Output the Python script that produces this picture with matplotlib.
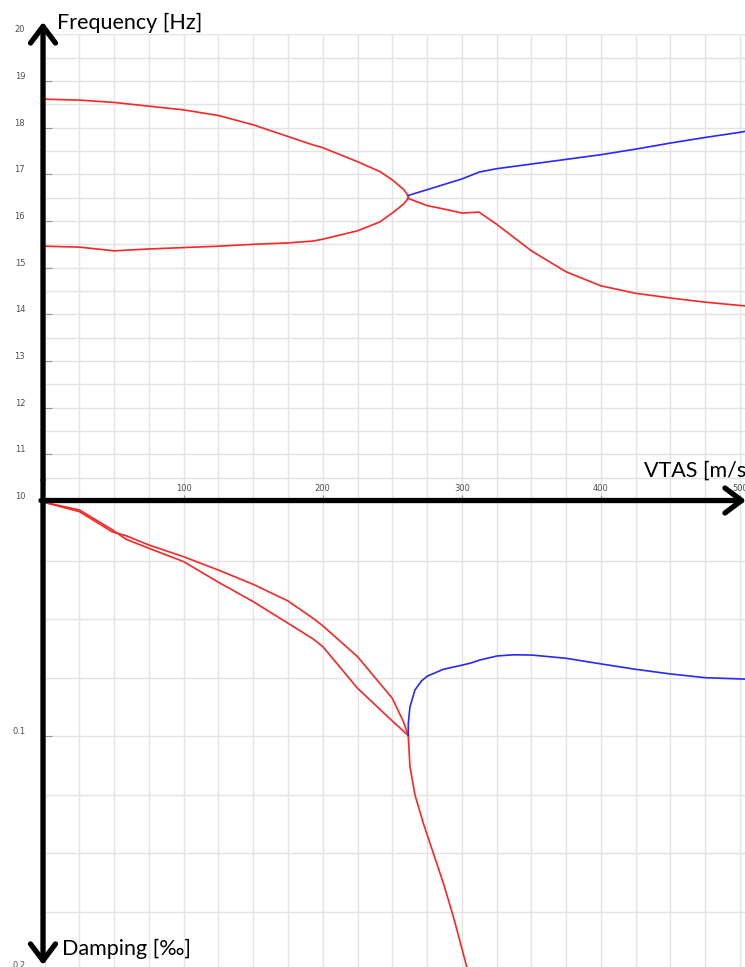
import numpy as np
import matplotlib
matplotlib.use("Agg")
import matplotlib.pyplot as plt
import matplotlib.ticker as ticker

# ---------------- data ----------------
# frequency branches [Hz] vs VTAS [m/s]
freq_up_v = [0, 25, 50, 75, 100, 125, 150, 175, 193, 200, 225, 241, 250, 258, 260.3, 261.5]
freq_up   = [18.61, 18.59, 18.54, 18.46, 18.38, 18.26, 18.06, 17.81, 17.63, 17.57,
             17.27, 17.06, 16.88, 16.68, 16.59, 16.51]
freq_lo_v = [0, 25, 50, 75, 100, 125, 150, 175, 193, 200, 225, 241, 250, 258, 260.3, 261.5]
freq_lo   = [15.46, 15.44, 15.36, 15.40, 15.43, 15.46, 15.50, 15.53, 15.57, 15.61,
             15.79, 15.98, 16.17, 16.36, 16.44, 16.51]
freq_blue_v = [261.7, 275, 300, 312.7, 325, 350, 375, 400, 425, 450, 475, 500, 503.6]
freq_blue   = [16.55, 16.67, 16.90, 17.05, 17.12, 17.22, 17.32, 17.42, 17.54, 17.67, 17.79, 17.90, 17.92]
freq_red2_v = [261.7, 275, 289.6, 300, 312.3, 325, 350, 375, 400, 425, 450, 475, 500, 503.6]
freq_red2   = [16.48, 16.33, 16.24, 16.17, 16.19, 15.93, 15.36, 14.91, 14.61, 14.45, 14.35, 14.26, 14.19, 14.18]

# damping branches [per mille] vs VTAS [m/s]
damp_a_v = [0, 25, 48.5, 58.5, 75, 100, 125, 150, 175, 193, 200, 225, 250, 258, 261.5]
damp_a   = [0.0002, 0.0041, 0.0127, 0.0144, 0.0184, 0.0234, 0.0291, 0.0352, 0.0423,
            0.0497, 0.0529, 0.0661, 0.0839, 0.0939, 0.0998]
damp_b_v = [0, 25, 48.5, 58.5, 75, 100, 125, 150, 175, 193, 200, 225, 250, 261.5]
damp_b   = [0.0002, 0.0034, 0.0118, 0.0159, 0.0198, 0.0255, 0.0343, 0.0426, 0.0518,
            0.0585, 0.0618, 0.0796, 0.0936, 0.0998]
damp_blue_v = [261.5, 261.5, 262.7, 266.3, 271.1, 275.2, 286.7, 300.3, 307.1, 313.1, 325.3,
               337.0, 350.2, 375.1, 400.1, 425.0, 450.2, 475.3, 500.0, 503.6]
damp_blue   = [0.0996, 0.0946, 0.0875, 0.0803, 0.0764, 0.0744, 0.0715, 0.0697, 0.0687, 0.0675,
               0.0658, 0.0653, 0.0654, 0.0668, 0.0692, 0.0715, 0.0735, 0.0751, 0.0756, 0.0757]
damp_red2_v = [261.5, 262.7, 266.3, 272.3, 279.5, 286.7, 293.9, 303.5]
damp_red2   = [0.1003, 0.1131, 0.1252, 0.1373, 0.1501, 0.1629, 0.1772, 0.1986]

x_labels = [100, 200, 300, 400, 500]
freq_ticks = list(range(10, 21))
damp_ticks = [0.1, 0.2]

RED = "#ff2424"
BLUE = "#2828ff"
GRID = "#e3e3e3"
TICKC = "#9a9a9a"
LABC = "#505050"

W, H = 745, 967
fig = plt.figure(figsize=(W / 100, H / 100), dpi=100)

x0 = 44.6          # pixel of VTAS = 0
px_per_v = 1.3908  # pixels per m/s
xmax = (W - x0) / px_per_v

def fx(px):
    return px / W

def fy(py):
    return (H - py) / H

# top: frequency, 10 Hz at y=501, 20 Hz at y=34.3
ax_f = fig.add_axes([fx(x0), fy(501), fx(W) - fx(x0), fy(34.3) - fy(501)])
# bottom: damping, 0 at y=502, 0.2 at y=970
ax_d = fig.add_axes([fx(x0), fy(970), fx(W) - fx(x0), fy(502) - fy(970)])

for ax in (ax_f, ax_d):
    ax.set_xlim(0, xmax)
    for s in ax.spines.values():
        s.set_visible(False)
    ax.xaxis.set_minor_locator(ticker.MultipleLocator(25))
    ax.grid(True, which="both", color=GRID, linewidth=1.0)
    ax.set_axisbelow(True)
    ax.tick_params(which="minor", length=0)

ax_f.set_ylim(10, 20)
ax_f.set_yticks(freq_ticks)
ax_f.yaxis.set_minor_locator(ticker.MultipleLocator(0.5))
ax_f.set_xticks(x_labels)
ax_f.tick_params(axis="y", which="major", direction="in", length=5, width=0.8,
                 color=TICKC, labelsize=6, labelcolor=LABC, pad=14)
ax_f.tick_params(axis="x", which="major", direction="in", length=4, width=0.8,
                 color=TICKC, labelsize=6, labelcolor=LABC, pad=-12)
for lab in ax_f.get_yticklabels():
    lab.set_verticalalignment("bottom")

ax_d.set_ylim(0.2, 0)
ax_d.set_yticks(damp_ticks)
ax_d.set_yticklabels(["0.1", "0.2"])
ax_d.yaxis.set_minor_locator(ticker.MultipleLocator(0.025))
ax_d.set_xticks([])
ax_d.tick_params(axis="y", which="major", direction="in", length=5, width=0.8,
                 color=TICKC, labelsize=6, labelcolor=LABC, pad=14)
for lab in ax_d.get_yticklabels():
    lab.set_verticalalignment("bottom")

lw = 1.2
ax_f.plot(freq_up_v, freq_up, color=RED, lw=lw)
ax_f.plot(freq_lo_v, freq_lo, color=RED, lw=lw)
ax_f.plot(freq_red2_v, freq_red2, color=RED, lw=lw)
ax_f.plot(freq_blue_v, freq_blue, color=BLUE, lw=lw)

ax_d.plot(damp_a_v, damp_a, color=RED, lw=lw)
ax_d.plot(damp_b_v, damp_b, color=RED, lw=lw)
ax_d.plot(damp_red2_v, damp_red2, color=RED, lw=lw)
ax_d.plot(damp_blue_v, damp_blue, color=BLUE, lw=lw, clip_on=False)

# thick black axes with open arrow heads
arrow_kw = dict(arrowstyle="->, head_length=1.0, head_width=0.75", lw=3.8,
                color="black", shrinkA=0, shrinkB=0, mutation_scale=12)
fig.add_artist(matplotlib.patches.FancyArrowPatch(
    (fx(43), fy(480)), (fx(43), fy(22)), transform=fig.transFigure, **arrow_kw))
fig.add_artist(matplotlib.patches.FancyArrowPatch(
    (fx(43), fy(480)), (fx(43), fy(965)), transform=fig.transFigure, **arrow_kw))
fig.add_artist(matplotlib.patches.FancyArrowPatch(
    (fx(41), fy(500.5)), (fx(746), fy(500.5)), transform=fig.transFigure, **arrow_kw))

font = ["Lato", "DejaVu Sans"]
fig.text(fx(57), fy(29), "Frequency [Hz]", fontsize=15.5, family=font, ha="left", va="baseline")
fig.text(fx(644), fy(477), "VTAS [m/s]", fontsize=15.5, family=font, ha="left", va="baseline")
fig.text(fx(62), fy(955), "Damping [‰]", fontsize=15.5, family=font, ha="left", va="baseline")

fig.savefig("out.png", dpi=100, facecolor="white")
